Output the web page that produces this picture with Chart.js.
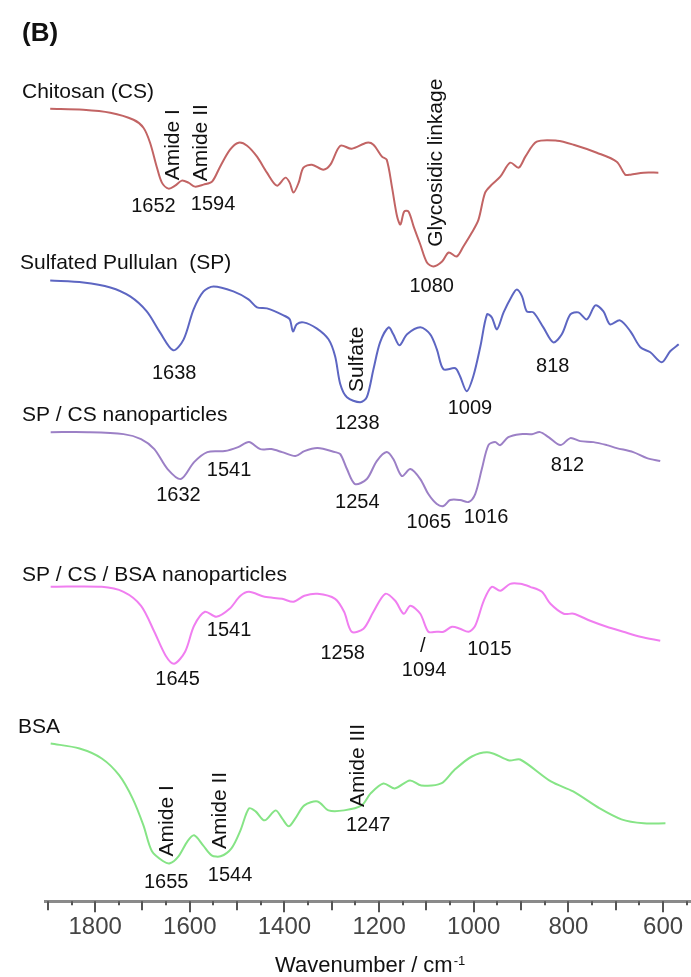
<!DOCTYPE html>
<html>
<head>
<meta charset="utf-8">
<script src="https://cdn.jsdelivr.net/npm/chart.js@4.4.1/dist/chart.umd.min.js"></script>
<style>
  html, body { margin: 0; padding: 0; background: #fff; }
  canvas { display: block; }
</style>
</head>
<body>
<canvas id="ftir" width="691" height="977"></canvas>
<script>
// FTIR spectra, offset transmittance (a.u.) against wavenumber (cm-1)
const seriesNames = ['Chitosan (CS)', 'Sulfated Pullulan  (SP)', 'SP / CS nanoparticles', 'SP / CS / BSA nanoparticles', 'BSA'];
const tickValues = [1800, 1600, 1400, 1200, 1000, 800, 600];

const csWave = [1895,1825,1768,1719,1698,1684,1670,1659,1645,1631,1617,1603,1589,1571,1553,1536,1515,1497,1479,1458,1437,1416,1398,1389,1381,1370,1360,1342,1318,1303,1282,1258,1226,1212,1194,1184,1173,1162,1155,1147,1138,1127,1113,1099,1085,1067,1053,1036,1022,1004,990,976,962,944,923,905,891,867,824,789,740,698,680,669,641,610];
const csT = [79.4,79.3,79.0,78.3,77.5,76.0,73.6,72.0,71.4,71.7,72.2,72.0,71.6,71.8,72.1,73.6,75.3,76.0,75.7,74.6,73.0,71.7,72.5,72.0,71.0,72.0,73.5,73.8,73.3,73.8,75.7,75.4,76.0,75.8,74.6,74.3,71.6,68.6,67.8,69.1,69.1,67.6,65.8,64.0,63.6,64.1,65.0,64.6,65.6,67.0,68.3,71.0,71.8,72.6,74.0,73.5,74.6,76.1,76.2,75.8,75.0,74.1,72.8,72.8,73.0,73.0];

const spWave = [1895,1825,1768,1726,1691,1663,1635,1613,1592,1571,1550,1508,1476,1458,1437,1402,1389,1382,1374,1360,1332,1307,1293,1282,1268,1240,1226,1212,1198,1180,1170,1157,1141,1113,1092,1078,1064,1039,1029,1015,1001,986,972,962,951,937,920,909,898,888,874,853,832,814,796,779,761,743,726,712,691,669,648,627,603,585,567];
const spT = [62.2,62.0,61.5,60.6,59.1,57.0,55.2,56.3,59.3,61.1,61.6,61.1,60.3,59.5,59.4,58.7,58.3,57.1,57.8,58.0,57.4,56.3,54.6,51.8,50.5,50.0,50.5,53.3,56.0,57.5,56.8,55.7,56.8,57.5,56.8,55.3,53.3,53.4,52.6,51.1,52.6,55.6,58.8,58.5,57.3,59.0,60.6,61.3,60.6,59.1,59.0,57.5,56.0,56.8,58.8,59.0,58.3,59.7,59.1,57.8,58.2,57.1,55.5,55.0,54.0,55.1,55.8];

const spcsWave = [1894,1815,1740,1703,1675,1647,1619,1591,1563,1526,1498,1475,1451,1428,1405,1377,1358,1330,1293,1282,1268,1251,1226,1205,1184,1170,1152,1134,1113,1096,1078,1064,1050,1029,1011,997,983,969,955,944,927,902,877,860,842,817,796,775,747,719,698,663,634,606];
const spcsT = [47.0,47.0,46.8,46.3,45.3,43.3,42.3,44.0,45.0,45.1,45.5,46.0,45.3,45.3,45.0,44.6,45.1,45.4,45.0,44.8,43.3,41.8,42.3,44.1,45.0,44.3,42.6,43.3,42.3,40.8,39.8,39.6,40.2,40.2,40.0,40.8,43.3,45.7,46.0,45.7,46.5,46.8,46.8,47.0,46.5,45.7,46.4,46.1,46.0,45.7,45.4,45.0,44.4,44.1];

const spcsbsaWave = [1894,1786,1740,1703,1675,1651,1633,1610,1591,1568,1544,1516,1493,1475,1442,1405,1381,1358,1330,1293,1274,1258,1233,1212,1187,1166,1148,1134,1113,1096,1078,1064,1046,1029,1011,997,979,962,944,923,902,881,856,838,810,789,754,719,684,648,606];
const spcsbsaT = [31.5,31.5,31.0,29.6,27.0,24.6,23.8,25.0,27.6,29.0,28.5,29.3,30.6,31.0,30.5,30.3,30.0,30.6,30.8,30.3,29.0,27.0,27.3,29.0,30.8,30.1,28.8,29.6,28.8,27.0,27.0,27.0,27.5,27.3,27.0,27.6,30.1,31.5,31.1,31.8,31.8,31.5,31.0,29.8,28.8,28.8,28.1,27.5,27.0,26.5,26.1];

const bsaWave = [1894,1833,1786,1749,1721,1698,1680,1656,1642,1624,1605,1591,1572,1554,1535,1512,1493,1475,1461,1442,1419,1405,1391,1377,1358,1330,1307,1274,1237,1218,1191,1167,1135,1111,1069,1042,1004,967,925,902,837,790,734,688,641,595];
const bsaT = [15.8,15.3,14.3,12.6,10.3,7.6,5.0,4.0,3.8,4.5,6.0,6.6,5.6,4.6,4.5,5.3,7.1,9.3,9.0,8.1,9.1,8.3,7.5,8.3,9.6,10.0,9.1,9.1,9.6,10.8,11.8,11.3,12.1,11.6,11.8,13.1,14.5,14.9,14.1,14.2,12.0,11.0,9.3,8.2,7.8,7.8];

// peak / band labels: text, wavenumber, transmittance, vertical?
const peakText = ['1652','1594','Amide I','Amide II','Glycosidic linkage','1080',
                  '1638','Sulfate','1238','1009','818',
                  '1632','1541','1254','1065','1016','812',
                  '1645','1541','1258','/','1094','1015',
                  'Amide I','Amide II','Amide III','1655','1544','1247'];
const peakWave = [1677,1551,1636,1576,1079,1089,
                  1633,1246,1246,1008,833,
                  1624,1517,1246,1095,974,802,
                  1626,1517,1277,1108,1105,967,
                  1647,1536,1245,1650,1515,1223];
const peakT = [69.6,69.8,75.8,76.0,74.0,61.6,
               52.9,54.3,47.9,49.4,53.6,
               40.7,43.2,40.0,37.9,38.4,43.7,
               22.2,27.1,24.8,25.5,23.1,25.2,
               8.05,9.1,13.6,1.9,2.6,7.6];
const peakVertical = [false,false,true,true,true,false,
                      false,true,false,false,false,
                      false,false,false,false,false,false,
                      false,false,false,false,false,false,
                      true,true,true,false,false,false];

const colors = ['#c26464', '#5d66c2', '#9c80c6', '#f07ef0', '#86e486'];
const FONT = '"Liberation Sans", Arial, sans-serif';

function pairs(w, t) { return w.map((v, i) => ({x: v, y: t[i]})); }

const waves = [csWave, spWave, spcsWave, spcsbsaWave, bsaWave];
const trans = [csT, spT, spcsT, spcsbsaT, bsaT];

const overlay = {
    id: 'overlay',
    afterDraw(chart) {
        const ctx = chart.ctx;
        const x = chart.scales.x, y = chart.scales.y;
        const axisY = chart.chartArea.bottom;
        ctx.save();

        // minor / major tick marks
        ctx.strokeStyle = '#555';
        ctx.lineWidth = 2;
        for (let v = 550; v <= 1900; v += 50) {
            const px = Math.round(x.getPixelForValue(v));
            const len = v % 200 === 0 ? 11 : (v % 100 === 0 ? 9 : 4);
            ctx.beginPath();
            ctx.moveTo(px, axisY);
            ctx.lineTo(px, axisY + len);
            ctx.stroke();
        }

        // axis title with superscript
        ctx.fillStyle = '#111';
        ctx.textBaseline = 'alphabetic';
        ctx.textAlign = 'left';
        ctx.font = '22px ' + FONT;
        const title = 'Wavenumber / cm';
        ctx.fillText(title, 275, 972);
        const tw = ctx.measureText(title).width;
        ctx.font = '13px ' + FONT;
        ctx.fillText('-1', 275 + tw + 1, 965);

        // panel letter
        ctx.font = 'bold 26px ' + FONT;
        ctx.fillText('(B)', 22, 41);

        // series names
        ctx.font = '21px ' + FONT;
        ctx.textBaseline = 'middle';
        const nameY = [92, 263, 415, 575, 727];
        const nameX = [22, 20, 22, 22, 18];
        seriesNames.forEach((n, i) => ctx.fillText(n, nameX[i], nameY[i]));

        // peak labels
        ctx.textAlign = 'center';
        peakText.forEach((t, i) => {
            const px = x.getPixelForValue(peakWave[i]);
            const py = y.getPixelForValue(peakT[i]);
            ctx.save();
            ctx.translate(px, py);
            if (peakVertical[i]) {
                ctx.rotate(-Math.PI / 2);
                ctx.font = '21px ' + FONT;
            } else {
                ctx.font = '20px ' + FONT;
            }
            ctx.fillText(t, 0, 0);
            ctx.restore();
        });
        ctx.restore();
    }
};

const chart = new Chart(document.getElementById('ftir'), {
    type: 'line',
    data: {
        datasets: seriesNames.map((n, i) => ({
            label: n,
            data: pairs(waves[i], trans[i]),
            borderColor: colors[i],
            borderWidth: 2,
            pointRadius: 0,
            tension: 0.3,
            fill: false
        }))
    },
    options: {
        responsive: false,
        animation: false,
        devicePixelRatio: 1,
        layout: { padding: { left: 45, right: 0, top: 0, bottom: 23 } },
        plugins: { legend: { display: false }, tooltip: { enabled: false } },
        scales: {
            x: {
                type: 'linear',
                reverse: true,
                min: 541,
                max: 1906,
                afterBuildTicks: (scale) => {
                    scale.ticks = tickValues.map(v => ({ value: v }));
                },
                afterFit: (scale) => {
                    scale.paddingLeft = 0;
                    scale.paddingRight = 0;
                },
                border: { display: true, color: '#8a8a8a', width: 3 },
                grid: { display: false, drawTicks: false },
                ticks: {
                    autoSkip: false,
                    maxRotation: 0,
                    padding: 12,
                    color: '#454545',
                    font: { family: FONT, size: 24 },
                    callback: (v) => String(v)
                }
            },
            y: { display: false, min: 0, max: 90.3 }
        }
    },
    plugins: [overlay]
});
</script>
</body>
</html>
